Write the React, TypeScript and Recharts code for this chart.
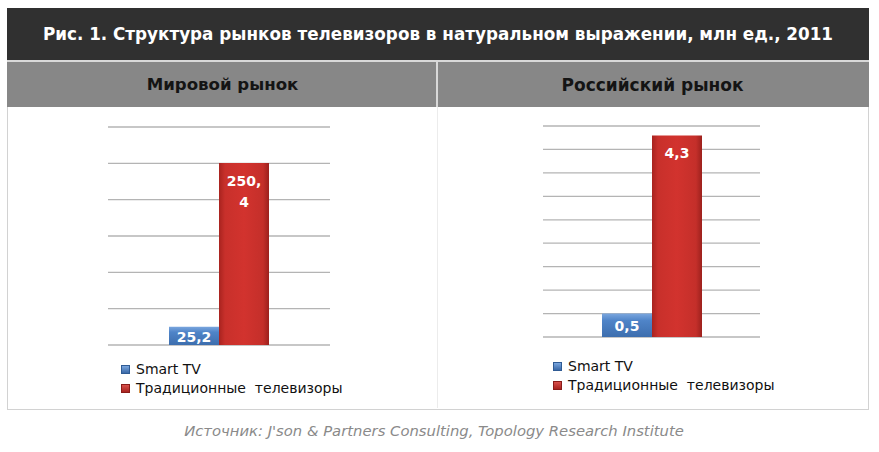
import React from 'react';
import { BarChart, Bar, XAxis, YAxis, CartesianGrid, LabelList } from 'recharts';

const titleText = 'Рис. 1. Структура рынков телевизоров в натуральном выражении, млн ед., 2011';
const panelTitles = ['Мировой рынок', 'Российский рынок'];
const seriesNames = ['Smart TV', 'Традиционные  телевизоры'];
const sourceText = "Источник: J'son & Partners Consulting, Topology Research Institute";

const categories = ['2011'];
const worldSmart = [25.2];
const worldTraditional = [250.4];
const russiaSmart = [0.5];
const russiaTraditional = [4.3];

const worldTicks = [0, 50, 100, 150, 200, 250, 300];
const russiaTicks = [0, 0.5, 1, 1.5, 2, 2.5, 3, 3.5, 4, 4.5];

const buildRows = (smart: number[], trad: number[]) =>
  categories.map((c, i) => ({ category: c, smart: smart[i], trad: trad[i] }));

const worldData = buildRows(worldSmart, worldTraditional);
const russiaData = buildRows(russiaSmart, russiaTraditional);

const fmt = (v: number) => String(v).replace('.', ',');

const LABEL_FONT = '"DejaVu Sans", Verdana, sans-serif';
const HEAD_FONT = '"DejaVu Sans", sans-serif';

const TopLabel = (props: any) => {
  const { x, y, width, value } = props;
  const text = fmt(Number(value));
  const lines = text.length > 4 ? [text.slice(0, text.indexOf(',') + 1), text.slice(text.indexOf(',') + 1)] : [text];
  const cx = Number(x) + Number(width) / 2;
  return (
    <text x={cx} y={Number(y) + 18} textAnchor="middle" fill="#fff" fontFamily={LABEL_FONT} fontSize={14} fontWeight="bold" dominantBaseline="central">
      {lines.map((l, i) => (
        <tspan key={i} x={cx} dy={i === 0 ? 0 : 21}>{l}</tspan>
      ))}
    </text>
  );
};

const CenterLabel = (props: any) => {
  const { x, y, width, height, value } = props;
  const cx = Number(x) + Number(width) / 2;
  const cy = Number(y) + Number(height) / 2;
  return (
    <text x={cx} y={cy + 1} textAnchor="middle" fill="#fff" fontFamily={LABEL_FONT} fontSize={14} fontWeight="bold" dominantBaseline="central">
      {fmt(Number(value))}
    </text>
  );
};

const Gradients = ({ id }: { id: string }) => (
  <defs>
    <linearGradient id={`blue-${id}`} x1="0" y1="0" x2="0" y2="1">
      <stop offset="0%" stopColor="#7aa6de" />
      <stop offset="30%" stopColor="#4f84c8" />
      <stop offset="100%" stopColor="#3d6eae" />
    </linearGradient>
    <linearGradient id={`red-${id}`} x1="0" y1="0" x2="1" y2="0">
      <stop offset="0%" stopColor="#a8231f" />
      <stop offset="12%" stopColor="#c8302b" />
      <stop offset="50%" stopColor="#d2332e" />
      <stop offset="88%" stopColor="#c42f2a" />
      <stop offset="100%" stopColor="#9c211d" />
    </linearGradient>
  </defs>
);

const Panel = ({ id, data, ticks, margin }: any) => (
  <BarChart width={margin.w} height={300} data={data} margin={{ top: margin.top, right: margin.right, bottom: margin.bottom, left: margin.left }} barGap={0}>
    <Gradients id={id} />
    <CartesianGrid vertical={false} stroke="#b4b4b4" strokeWidth={1.3} />
    <XAxis dataKey="category" hide />
    <YAxis hide domain={[ticks[0], ticks[ticks.length - 1]]} ticks={ticks} type="number" />
    <Bar dataKey="smart" name={seriesNames[0]} fill={`url(#blue-${id})`} barSize={50} isAnimationActive={false}>
      <LabelList dataKey="smart" content={CenterLabel} />
    </Bar>
    <Bar dataKey="trad" name={seriesNames[1]} fill={`url(#red-${id})`} barSize={50} isAnimationActive={false}>
      <LabelList dataKey="trad" content={TopLabel} />
    </Bar>
  </BarChart>
);

const LegendBlock = ({ left, top }: { left: number; top: number }) => (
  <div style={{ position: 'absolute', left, top, fontFamily: LABEL_FONT, fontSize: 14, color: '#111', lineHeight: '19px', whiteSpace: 'pre' }}>
    {seriesNames.map((n, i) => (
      <div key={n} style={{ display: 'flex', alignItems: 'center' }}>
        <span style={{ display: 'inline-block', width: 7, height: 7, marginRight: 6, border: '0.5px solid ' + (i === 0 ? '#2f5b94' : '#8a1c19'), background: i === 0 ? 'linear-gradient(#7aa6de,#3a69a8)' : 'linear-gradient(#d8504b,#a8231f)' }} />
        <span>{n}</span>
      </div>
    ))}
  </div>
);

export default function App() {
  return (
    <div style={{ position: 'absolute', left: 0, top: 0, width: 879, height: 452, background: '#fff', overflow: 'hidden' }}>
      {/* frame */}
      <div style={{ position: 'absolute', left: 7, top: 8, width: 860, height: 400, border: '1px solid #d2d2d2' }} />
      <div style={{ position: 'absolute', left: 437, top: 107, width: 1, height: 301, background: '#ececec' }} />
      {/* title bar */}
      <div style={{ position: 'absolute', left: 7, top: 8, width: 862, height: 52, background: '#303030' }} />
      <div style={{ position: 'absolute', left: 7, top: 8, width: 862, height: 52, display: 'flex', alignItems: 'center', justifyContent: 'center', color: '#fff', fontFamily: HEAD_FONT, fontWeight: 'bold', fontSize: 16.8, whiteSpace: 'nowrap' }}>
        {titleText}
      </div>
      {/* headers */}
      <div style={{ position: 'absolute', left: 7, top: 60, width: 862, height: 2, background: '#d8d8d8' }} />
      <div style={{ position: 'absolute', left: 7, top: 62, width: 429, height: 45, background: '#878787', display: 'flex', alignItems: 'center', justifyContent: 'center', color: '#141414', fontFamily: HEAD_FONT, fontWeight: 'bold', fontSize: 16.6, whiteSpace: 'nowrap' }}>
        <span style={{ marginLeft: 2 }}>{panelTitles[0]}</span>
      </div>
      <div style={{ position: 'absolute', left: 436, top: 62, width: 2, height: 45, background: '#d8d8d8' }} />
      <div style={{ position: 'absolute', left: 438, top: 62, width: 431, height: 45, background: '#878787', display: 'flex', alignItems: 'center', justifyContent: 'center', color: '#141414', fontFamily: HEAD_FONT, fontWeight: 'bold', fontSize: 17, whiteSpace: 'nowrap' }}>
        <span style={{ marginRight: 2 }}>{panelTitles[1]}</span>
      </div>
      {/* charts */}
      <div style={{ position: 'absolute', left: 0, top: 107 }}>
        <Panel id="w" data={worldData} ticks={worldTicks} margin={{ w: 437, top: 20, right: 107, bottom: 62, left: 108 }} />
      </div>
      <div style={{ position: 'absolute', left: 437, top: 107 }}>
        <Panel id="r" data={russiaData} ticks={russiaTicks} margin={{ w: 432, top: 19, right: 109, bottom: 70, left: 106 }} />
      </div>
      <LegendBlock left={121} top={360} />
      <LegendBlock left={553} top={357} />
      {/* source */}
      <div style={{ position: 'absolute', left: 0, top: 422, width: 868, textAlign: 'center', fontFamily: LABEL_FONT, fontStyle: 'italic', fontSize: 14.8, color: '#8a8a8a', whiteSpace: 'nowrap' }}>
        {sourceText}
      </div>
    </div>
  );
}
